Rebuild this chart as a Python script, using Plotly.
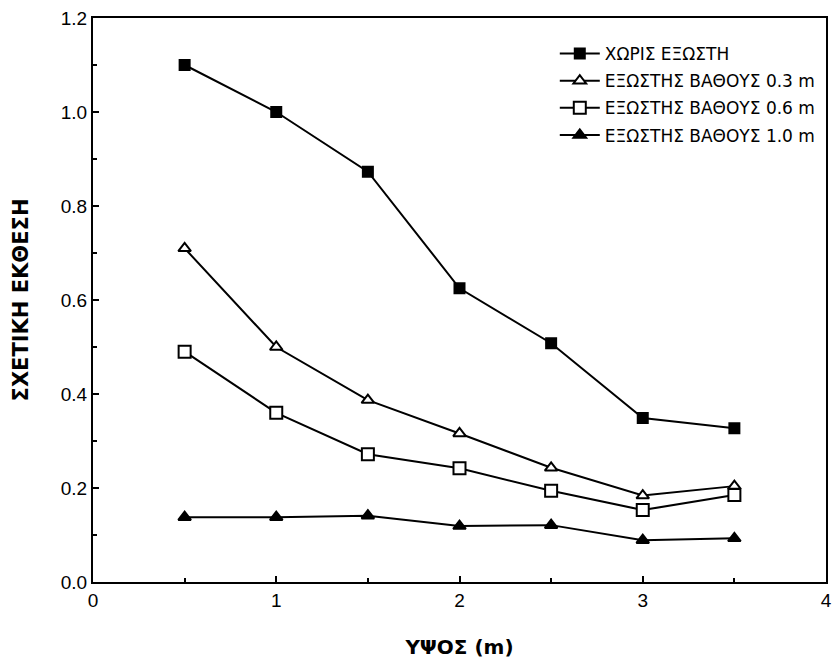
import plotly.graph_objects as go

x_vals = [0.5, 1.0, 1.5, 2.0, 2.5, 3.0, 3.5]
no_balcony = [1.10, 1.00, 0.873, 0.625, 0.508, 0.349, 0.327]
balcony_03 = [0.710, 0.500, 0.387, 0.316, 0.243, 0.184, 0.204]
balcony_06 = [0.490, 0.360, 0.272, 0.242, 0.194, 0.153, 0.185]
balcony_10 = [0.138, 0.138, 0.141, 0.119, 0.121, 0.089, 0.093]

names = ["ΧΩΡΙΣ ΕΞΩΣΤΗ", "ΕΞΩΣΤΗΣ ΒΑΘΟΥΣ 0.3 m", "ΕΞΩΣΤΗΣ ΒΑΘΟΥΣ 0.6 m", "ΕΞΩΣΤΗΣ ΒΑΘΟΥΣ 1.0 m"]
series = [no_balcony, balcony_03, balcony_06, balcony_10]
symbols = ["square", "triangle-up", "square", "triangle-up"]
fills = ["black", "white", "white", "black"]
sizes = [10, 11, 12, 11]

fig = go.Figure()
for i, (n, s, sym, fc, sz) in enumerate(zip(names, series, symbols, fills, sizes)):
    fig.add_trace(go.Scatter(
        x=x_vals, y=s, name=n, mode="lines+markers", legendgroup=f"g{i}",
        line=dict(color="black", width=2),
        marker=dict(symbol=sym, size=sz, color=fc, line=dict(color="black", width=2)),
    ))

axis_common = dict(
    showline=True, linecolor="black", linewidth=2, mirror=True,
    ticks="inside", ticklen=6, tickwidth=1.5, tickcolor="black",
    showgrid=False, zeroline=False, ticklabeloverflow="allow",
    tickfont=dict(family="Liberation Sans, Arial", size=19, color="black"),
)

fig.update_layout(
    width=834, height=659,
    margin=dict(l=93, r=2, t=18, b=77),
    paper_bgcolor="white", plot_bgcolor="white",
    showlegend=True,
    legend=dict(
        x=0.630, y=0.968, xanchor="left", yanchor="top",
        bgcolor="rgba(0,0,0,0)", borderwidth=0,
        font=dict(family="DejaVu Sans, Verdana", size=17, color="black"),
        tracegroupgap=2, itemwidth=40,
    ),
    xaxis=dict(
        range=[0, 4], tickvals=[0, 1, 2, 3, 4], ticktext=["0", "1", "2", "3", "4"],
        minor=dict(dtick=0.5, tick0=0, ticks="inside", ticklen=4, tickcolor="black"),
        title=dict(text="<b>ΥΨΟΣ (m)</b>", standoff=32,
                   font=dict(family="DejaVu Sans, Verdana", size=20, color="black")),
        **axis_common,
    ),
    yaxis=dict(
        range=[0, 1.2], tickvals=[0, 0.2, 0.4, 0.6, 0.8, 1.0, 1.2],
        ticktext=["0.0", "0.2", "0.4", "0.6", "0.8", "1.0", "1.2"],
        minor=dict(dtick=0.1, tick0=0, ticks="inside", ticklen=4, tickcolor="black"),
        title=dict(text="<b>ΣΧΕΤΙΚΗ ΕΚΘΕΣΗ</b>", standoff=26,
                   font=dict(family="DejaVu Sans, Verdana", size=21, color="black")),
        **axis_common,
    ),
)

fig.write_html("out.html")
